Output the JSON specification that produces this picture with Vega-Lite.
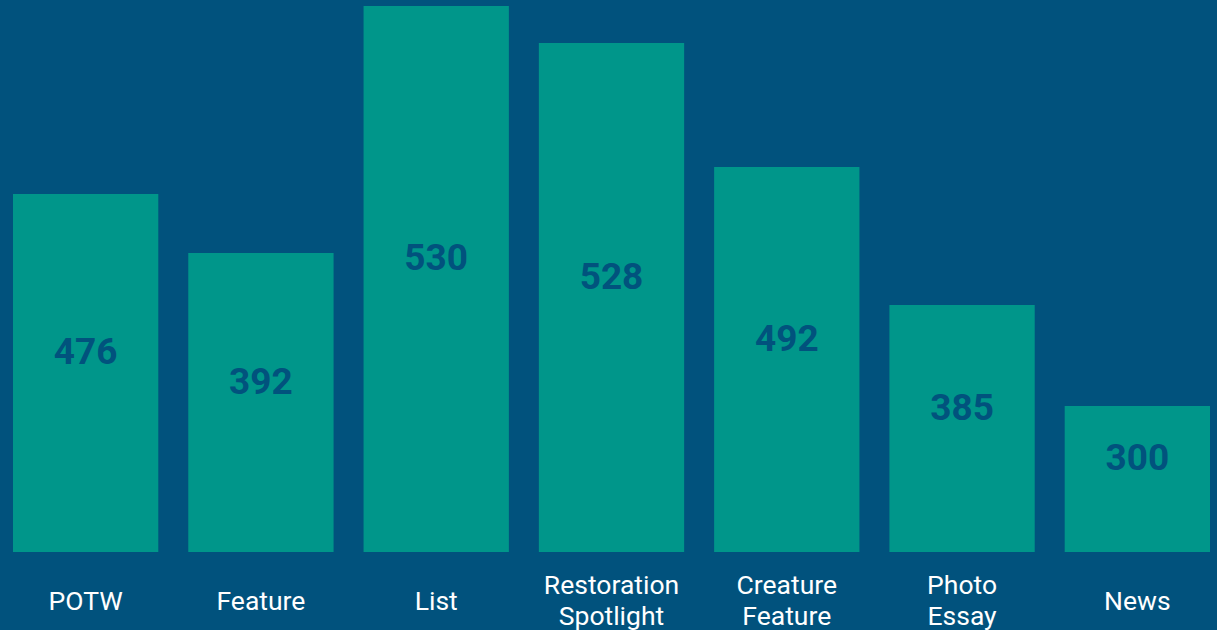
{
  "$schema": "https://vega.github.io/schema/vega-lite/v6.json",
  "width": 1217,
  "height": 552,
  "padding": 0,
  "background": "#01527d",
  "config": {"view": {"stroke": null}, "font": "Roboto"},
  "data": {
    "values": [
      {"category": "POTW", "height": 358, "count": 476},
      {"category": "Feature", "height": 299, "count": 392},
      {"category": "List", "height": 546, "count": 530},
      {"category": "Restoration Spotlight", "height": 509, "count": 528},
      {"category": "Creature Feature", "height": 385, "count": 492},
      {"category": "Photo Essay", "height": 247, "count": 385},
      {"category": "News", "height": 146, "count": 300}
    ]
  },
  "encoding": {
    "x": {
      "field": "category",
      "type": "nominal",
      "sort": null,
      "scale": {"paddingInner": 0.171, "paddingOuter": 0.057, "align": 0.65},
      "axis": {
        "title": null,
        "domain": false,
        "ticks": false,
        "grid": false,
        "labelAngle": 0,
        "labelColor": "#ffffff",
        "labelFont": "Roboto",
        "labelFontSize": 26.5,
        "labelFontWeight": 400,
        "labelLineHeight": 31,
        "labelBaseline": "middle",
        "labelPadding": {"condition": {"test": "indexof(datum.value, ' ') >= 0", "value": 33}, "value": 49},
        "labelExpr": "split(datum.label, ' ')"
      }
    }
  },
  "layer": [
    {
      "mark": {"type": "bar", "color": "#00968a"},
      "encoding": {
        "y": {"field": "height", "type": "quantitative", "scale": {"domain": [0, 552], "nice": false, "zero": true}, "axis": null}
      }
    },
    {
      "mark": {"type": "text", "color": "#01527d", "font": "Roboto", "fontWeight": "bold", "fontSize": 37, "baseline": "middle", "dy": -20},
      "encoding": {
        "y": {"field": "height", "type": "quantitative", "scale": {"domain": [0, 1104], "nice": false, "zero": true}, "axis": null},
        "text": {"field": "count", "type": "quantitative"}
      }
    }
  ],
  "resolve": {"scale": {"y": "independent"}}
}
